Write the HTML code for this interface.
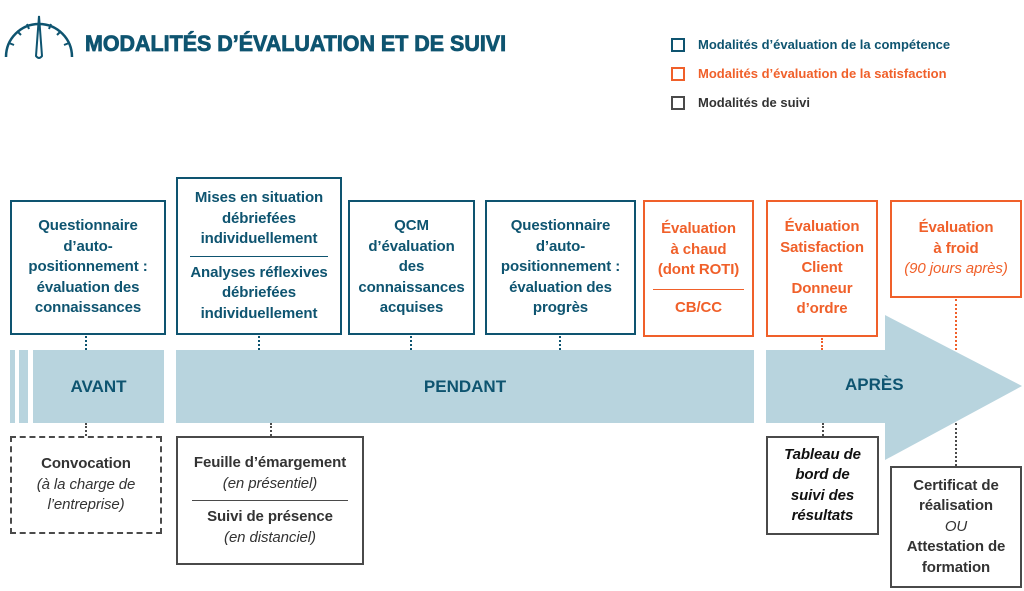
<!DOCTYPE html>
<html><head><meta charset="utf-8"><style>
body{margin:0;width:1024px;height:591px;background:#fff;position:relative;overflow:hidden;font-family:"Liberation Sans",sans-serif;font-weight:bold}
.b{position:absolute;box-sizing:border-box;display:flex;flex-direction:column;justify-content:center;align-items:center;text-align:center;font-size:15px;line-height:20.5px;letter-spacing:-0.1px}
.t{border:2px solid #0e5470;color:#0e5470}
.o{border:2px solid #f0602a;color:#f0602a}
.g{border:2px solid #4a4a4a;color:#333}
.d{border:2px dashed #4a4a4a;color:#333}
i{font-weight:normal}
.hr{width:85%;height:1px;margin:6px 0}
.band{position:absolute;background:#b8d4de;top:350px;height:73px;display:flex;align-items:center;justify-content:center;color:#0e5470;font-size:17px}
.v{position:absolute;width:0;border-left:2px dotted}
.lg{position:absolute;left:671px;font-size:13px}
.lg span{position:absolute;left:0;top:1px;width:10px;height:10px;border:2px solid}
.lg div{position:absolute;left:27px;white-space:nowrap}
</style></head><body>
<svg style="position:absolute;left:0;top:12px" width="80" height="50" viewBox="0 0 80 50">
<path d="M6 45 A33 33 0 0 1 72 45" fill="none" stroke="#0e5470" stroke-width="2.5"/>
<g stroke="#0e5470" stroke-width="2"><line x1="9" y1="31" x2="14" y2="33"/><line x1="17" y1="19" x2="21" y2="23"/><line x1="27" y1="12" x2="29" y2="17"/><line x1="51" y1="12" x2="49" y2="17"/><line x1="61" y1="19" x2="57" y2="23"/><line x1="69" y1="31" x2="64" y2="33"/></g>
<path d="M39 4 L36 44 Q39 48 42 44 Z" fill="#fff" stroke="#0e5470" stroke-width="2"/>
</svg>
<div style="position:absolute;left:85px;top:31px;font-size:22px;font-weight:900;color:#0e5470;-webkit-text-stroke:0.8px #0e5470;white-space:nowrap;transform:scaleX(0.975);transform-origin:left">MODALITÉS D’ÉVALUATION ET DE SUIVI</div>

<div class="lg" style="top:37px;color:#0e5470"><span></span><div>Modalités d’évaluation de la compétence</div></div>
<div class="lg" style="top:66px;color:#f0602a"><span></span><div>Modalités d’évaluation de la satisfaction</div></div>
<div class="lg" style="top:95px;color:#333"><span style="border-color:#4a4a4a"></span><div>Modalités de suivi</div></div>

<div class="band" style="left:10px;width:5px"></div>
<div class="band" style="left:19px;width:9px"></div>
<div class="band" style="left:33px;width:131px">AVANT</div>
<div class="band" style="left:176px;width:578px">PENDANT</div>
<svg style="position:absolute;left:766px;top:315px" width="258" height="146"><polygon points="0,35 119,35 119,0 256,71 119,145 119,108 0,108" fill="#b8d4de"/></svg>
<div style="position:absolute;left:845px;top:375px;color:#0e5470;font-size:17px">APRÈS</div>

<div class="v" style="left:85px;top:336px;height:14px;border-color:#0e5470"></div>
<div class="v" style="left:258px;top:336px;height:14px;border-color:#0e5470"></div>
<div class="v" style="left:410px;top:336px;height:14px;border-color:#0e5470"></div>
<div class="v" style="left:559px;top:336px;height:14px;border-color:#0e5470"></div>
<div class="v" style="left:821px;top:338px;height:12px;border-color:#f0602a"></div>
<div class="v" style="left:955px;top:299px;height:51px;border-color:#f0602a"></div>
<div class="v" style="left:85px;top:423px;height:13px;border-color:#4a4a4a"></div>
<div class="v" style="left:270px;top:423px;height:13px;border-color:#4a4a4a"></div>
<div class="v" style="left:822px;top:423px;height:13px;border-color:#4a4a4a"></div>
<div class="v" style="left:955px;top:423px;height:43px;border-color:#4a4a4a"></div>

<div class="b t" style="left:10px;top:200px;width:156px;height:135px">Questionnaire<br>d’auto-<br>positionnement :<br>évaluation des<br>connaissances</div>
<div class="b t" style="left:176px;top:177px;width:166px;height:158px">Mises en situation<br>débriefées<br>individuellement<div class="hr" style="background:#0e5470"></div>Analyses réflexives<br>débriefées<br>individuellement</div>
<div class="b t" style="left:348px;top:200px;width:127px;height:135px">QCM<br>d’évaluation<br>des<br>connaissances<br>acquises</div>
<div class="b t" style="left:485px;top:200px;width:151px;height:135px">Questionnaire<br>d’auto-<br>positionnement :<br>évaluation des<br>progrès</div>
<div class="b o" style="left:643px;top:200px;width:111px;height:137px">Évaluation<br>à chaud<br>(dont ROTI)<div class="hr" style="background:#f0602a;margin:8px 0"></div>CB/CC</div>
<div class="b o" style="left:766px;top:200px;width:112px;height:137px">Évaluation<br>Satisfaction<br>Client<br>Donneur<br>d’ordre</div>
<div class="b o" style="left:890px;top:200px;width:132px;height:98px">Évaluation<br>à froid<br><i>(90 jours après)</i></div>

<div class="b d" style="left:10px;top:436px;width:152px;height:98px">Convocation<br><i>(à la charge de<br>l’entreprise)</i></div>
<div class="b g" style="left:176px;top:436px;width:188px;height:129px">Feuille d’émargement<br><i>(en présentiel)</i><div class="hr" style="background:#4a4a4a"></div>Suivi de présence<br><i>(en distanciel)</i></div>
<div class="b g" style="left:766px;top:436px;width:113px;height:99px;color:#111"><em>Tableau de<br>bord de<br>suivi des<br>résultats</em></div>
<div class="b g" style="left:890px;top:466px;width:132px;height:122px">Certificat de<br>réalisation<br><i>OU</i>Attestation de<br>formation</div>
</body></html>
